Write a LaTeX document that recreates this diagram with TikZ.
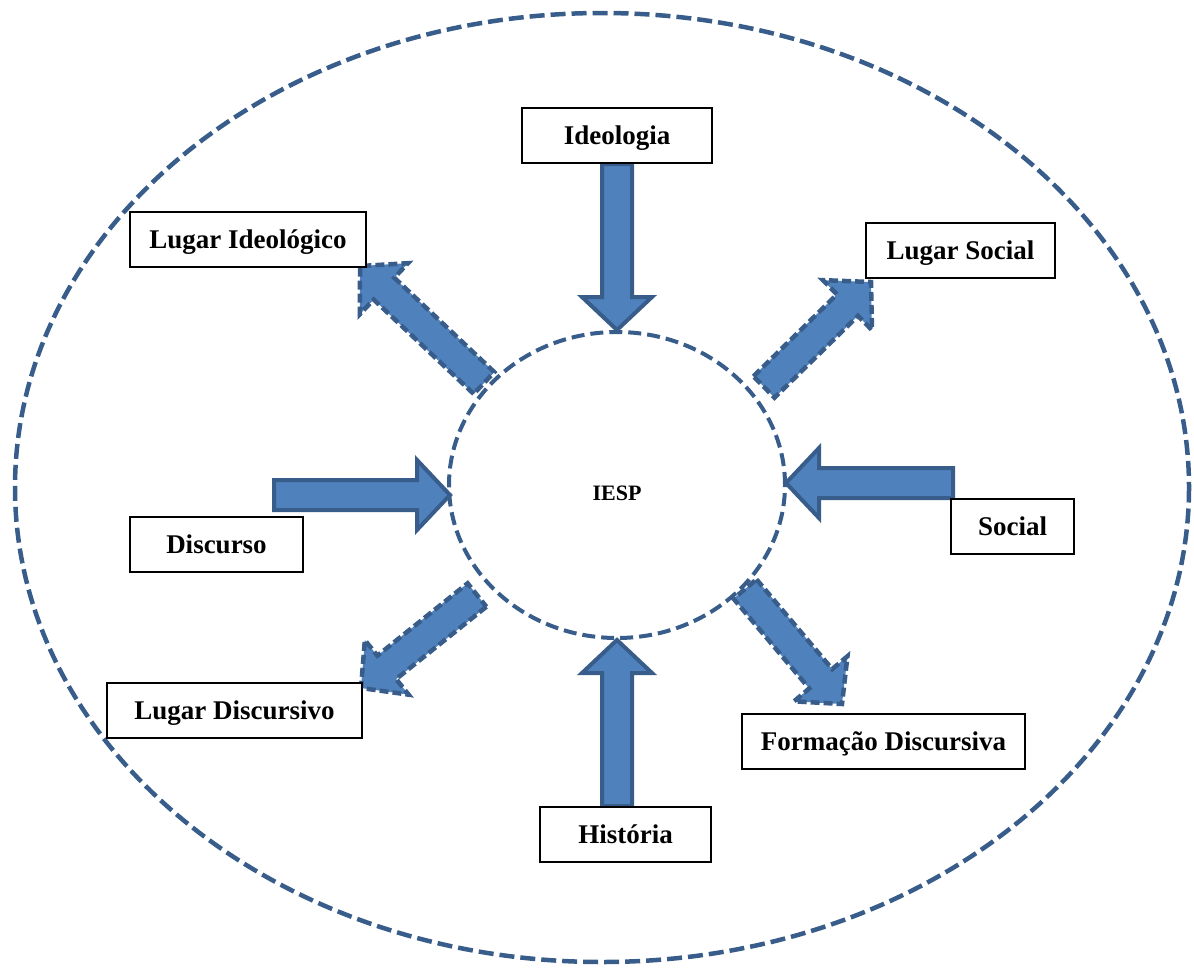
\documentclass[tikz,border=0pt]{standalone}
\usepackage{fontspec}
\setmainfont{Liberation Serif}
\usetikzlibrary{calc,shapes.geometric}
\definecolor{rimblue}{HTML}{385D8A}
\definecolor{fillblue}{HTML}{4F81BD}
\pgfdeclarelayer{bg}
\pgfsetlayers{bg,main}

\tikzset{
  termbox/.style={draw=black, line width=2pt, fill=white, inner sep=0pt,
    font=\fontsize{27}{32}\selectfont\bfseries, minimum height=55pt,
    text height=22pt, text depth=4pt},
  ring/.style={draw=rimblue, line width=4.5pt, dash pattern=on 15pt off 6pt},
  block/.style={draw=rimblue, fill=fillblue, line width=4pt, line join=miter},
  blockdashed/.style={block, line width=4.5pt, dash pattern=on 9pt off 4pt},
}

% block arrow from #2 (tail) to #3 (tip)
\newcommand\blockarrow[3][]{%
  \coordinate (hb) at ($(#3)!33pt!(#2)$);
  \draw[block,#1]
    ($(#2)!15pt!90:(#3)$) -- ($(hb)!15pt!90:(#3)$) -- ($(hb)!35pt!90:(#3)$)
    -- (#3) -- ($(hb)!35pt!-90:(#3)$) -- ($(hb)!15pt!-90:(#3)$)
    -- ($(#2)!15pt!-90:(#3)$) -- cycle;}

\begin{document}
\begin{tikzpicture}[x=1pt,y=-1pt]
  \useasboundingbox (0,0) rectangle (1194,967);

  % outer field
  \draw[ring] (602,487.5) ellipse [x radius=587, y radius=474.5];

  % centre
  \node[ellipse, ring, line width=4pt, dash pattern=on 13pt off 6pt, minimum width=336pt, minimum height=306pt, inner sep=0pt] (iesp) at (617,485) {};
  \node[font=\fontsize{22}{26}\selectfont\bfseries] (iesplabel) at (617,493) {IESP};

  % terms
  \node[termbox, minimum width=190pt] (ideo)    at (617,135.5)  {Ideologia};
  \node[termbox, minimum width=236pt] (lugid)   at (248,239.5)  {Lugar Ideológico};
  \node[termbox, minimum width=189pt] (lugsoc)  at (960.5,250)  {Lugar Social};
  \node[termbox, minimum width=173pt] (disc)    at (216.5,544.5){Discurso};
  \node[termbox, minimum width=123pt] (social)  at (1012.5,526) {Social};
  \node[termbox, minimum width=255pt] (lugdisc) at (234.5,710.5){Lugar Discursivo};
  \node[termbox, minimum width=283pt] (form)    at (883.5,741)  {Formação Discursiva};
  \node[termbox, minimum width=171pt] (hist)    at (625.5,834)  {História};

  % free ends of the arrows
  \coordinate (d1) at (274,495);  \coordinate (d2) at (450,495);
  \coordinate (s1) at (953,483);  \coordinate (s2) at (786,483);
  \coordinate (h1) at (617,806);
  \coordinate (li1) at (484,383); \coordinate (li2) at (360,266);
  \coordinate (ls1) at (764,387); \coordinate (ls2) at (871,282);
  \coordinate (ld1) at (477,595); \coordinate (ld2) at (361,688);
  \coordinate (f1) at (745,589);  \coordinate (f2) at (842,704);

  \begin{pgfonlayer}{bg}
    \blockarrow{ideo.south}{iesp.north}
    \blockarrow{d1}{d2}
    \blockarrow{s1}{s2}
    \blockarrow{h1}{iesp.south}
    \blockarrow[blockdashed]{li1}{li2}
    \blockarrow[blockdashed]{ls1}{ls2}
    \blockarrow[blockdashed]{ld1}{ld2}
    \blockarrow[blockdashed]{f1}{f2}
  \end{pgfonlayer}
\end{tikzpicture}
\end{document}
